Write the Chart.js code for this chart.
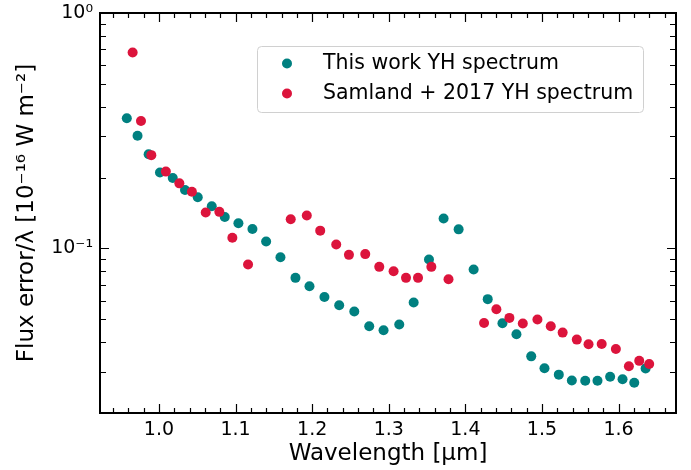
<!DOCTYPE html>
<html>
<head>
<meta charset="utf-8">
<script src="https://cdn.jsdelivr.net/npm/chart.js@4/dist/chart.umd.min.js"></script>
<style>
  html, body { margin: 0; padding: 0; background: #fff; }
  canvas { display: block; }
</style>
</head>
<body>
<canvas id="errChart" width="691" height="470"></canvas>
<script>
// ===== DATA =====
const thisWorkWave = [0.958, 0.972, 0.9865, 1.0013, 1.018, 1.034, 1.0506, 1.0689, 1.0859, 1.1037,
    1.122, 1.1399, 1.1586, 1.1782, 1.1965, 1.216, 1.2353, 1.255, 1.2745, 1.2932,
    1.3137, 1.3325, 1.3525, 1.3716, 1.3912, 1.4108, 1.4292, 1.4484, 1.4667, 1.486,
    1.5033, 1.522, 1.539, 1.5565, 1.5725, 1.589, 1.6052, 1.6205, 1.6353];
const thisWorkErr = [0.357, 0.301, 0.251, 0.210, 0.199, 0.177, 0.165, 0.151, 0.136, 0.128,
    0.121, 0.107, 0.0918, 0.075, 0.0691, 0.0622, 0.0574, 0.054, 0.0467, 0.0449,
    0.0475, 0.0589, 0.0898, 0.134, 0.1205, 0.0814, 0.0609, 0.0481, 0.0432, 0.0348,
    0.031, 0.0291, 0.0275, 0.0274, 0.0274, 0.0285, 0.0278, 0.0269, 0.0309];

const samlandWave = [0.9656, 0.9765, 0.990, 1.009, 1.0266, 1.043, 1.061, 1.0788, 1.0958, 1.1163,
    1.172, 1.193, 1.2105, 1.2314, 1.248, 1.2693, 1.2876, 1.3063, 1.3225, 1.3382,
    1.3556, 1.378, 1.4244, 1.4405, 1.4575, 1.475, 1.4941, 1.5115, 1.527, 1.5455,
    1.5608, 1.578, 1.5965, 1.6135, 1.627, 1.640];
const samlandErr = [0.679, 0.348, 0.249, 0.212, 0.189, 0.174, 0.142, 0.143, 0.111, 0.0855,
    0.133, 0.138, 0.119, 0.104, 0.0939, 0.0946, 0.0835, 0.080, 0.075, 0.075,
    0.0835, 0.074, 0.0482, 0.0552, 0.0507, 0.048, 0.0499, 0.0467, 0.0439, 0.041,
    0.0392, 0.0393, 0.0374, 0.0316, 0.0333, 0.0323];

const seriesLabels = ['This work YH spectrum', 'Samland + 2017 YH spectrum'];

const xMajorTicks = [1.0, 1.1, 1.2, 1.3, 1.4, 1.5, 1.6];
const xMinorTicks = [0.94, 0.96, 0.98, 1.02, 1.04, 1.06, 1.08, 1.12, 1.14, 1.16, 1.18,
    1.22, 1.24, 1.26, 1.28, 1.32, 1.34, 1.36, 1.38, 1.42, 1.44, 1.46, 1.48,
    1.52, 1.54, 1.56, 1.58, 1.62, 1.64, 1.66];
const yMajorTicks = [0.1, 1];
const yMajorLabels = ['10\u207B\u00B9', '10\u2070'];
const yMinorTicks = [0.02, 0.03, 0.04, 0.05, 0.06, 0.07, 0.08, 0.09,
    0.2, 0.3, 0.4, 0.5, 0.6, 0.7, 0.8, 0.9];

function toPoints(xs, ys) {
    return xs.map(function(x, i) { return { x: x, y: ys[i] }; });
}

const FONT = "'DejaVu Sans', sans-serif";

// frame, inward ticks and legend, drawn like matplotlib
const framePlugin = {
    id: 'frame',
    afterDraw: function(chart) {
        const c = chart.ctx;
        const a = chart.chartArea;
        const xs = chart.scales.x;
        const ys = chart.scales.y;
        c.save();
        c.strokeStyle = '#000';
        c.lineWidth = 1.2;
        function xTick(v, len) {
            const px = Math.round(xs.getPixelForValue(v)) + 0.5;
            c.beginPath();
            c.moveTo(px, a.bottom); c.lineTo(px, a.bottom - len);
            c.moveTo(px, a.top); c.lineTo(px, a.top + len);
            c.stroke();
        }
        function yTick(v, len) {
            const py = Math.round(ys.getPixelForValue(v)) + 0.5;
            c.beginPath();
            c.moveTo(a.left, py); c.lineTo(a.left + len, py);
            c.moveTo(a.right, py); c.lineTo(a.right - len, py);
            c.stroke();
        }
        xMajorTicks.forEach(function(v) { xTick(v, 9); });
        xMinorTicks.forEach(function(v) { xTick(v, 5); });
        yMajorTicks.forEach(function(v) { yTick(v, 9); });
        yMinorTicks.forEach(function(v) { yTick(v, 6); });

        c.lineWidth = 2;
        c.strokeRect(a.left, a.top, a.right - a.left, a.bottom - a.top);

        // legend
        const lx = 257, ly = 46, lw = 386, lh = 66;
        c.beginPath();
        c.roundRect(lx + 0.5, ly + 0.5, lw, lh, 4);
        c.fillStyle = 'rgba(255,255,255,0.8)';
        c.fill();
        c.strokeStyle = '#d0d0d0';
        c.lineWidth = 1;
        c.stroke();
        c.font = '20.5px ' + FONT;
        c.textBaseline = 'middle';
        c.textAlign = 'left';
        chart.data.datasets.forEach(function(ds, i) {
            const cy = 63.5 + i * 30;
            c.beginPath();
            c.arc(287, cy, 5, 0, Math.PI * 2);
            c.fillStyle = ds.backgroundColor;
            c.fill();
            c.fillStyle = '#000';
            c.fillText(ds.label, 323, cy);
        });
        c.restore();
    }
};

new Chart(document.getElementById('errChart'), {
    type: 'scatter',
    data: {
        datasets: [
            {
                label: seriesLabels[0],
                data: toPoints(thisWorkWave, thisWorkErr),
                backgroundColor: '#008080',
                borderWidth: 0,
                pointRadius: 5,
                order: 1
            },
            {
                label: seriesLabels[1],
                data: toPoints(samlandWave, samlandErr),
                backgroundColor: '#dc143c',
                borderWidth: 0,
                pointRadius: 5,
                order: 0
            }
        ]
    },
    options: {
        responsive: false,
        animation: false,
        layout: { padding: { left: 0, right: 15, top: 13, bottom: 0 } },
        plugins: {
            legend: { display: false },
            tooltip: { enabled: false }
        },
        scales: {
            x: {
                type: 'linear',
                min: 0.923,
                max: 1.675,
                grid: { display: false, drawTicks: false },
                border: { display: false },
                afterFit: function(scale) {
                    scale.height = 57;
                    scale.paddingLeft = 0;
                    scale.paddingRight = 0;
                },
                afterBuildTicks: function(scale) {
                    scale.ticks = xMajorTicks.map(function(v) { return { value: v }; });
                },
                ticks: {
                    padding: 6,
                    color: '#000',
                    font: { family: FONT, size: 19 },
                    callback: function(value) { return Number(value).toFixed(1); }
                },
                title: {
                    display: true,
                    text: 'Wavelength [\u03BCm]',
                    color: '#000',
                    font: { family: FONT, size: 23 },
                    padding: { top: 0, bottom: 2 }
                }
            },
            y: {
                type: 'logarithmic',
                min: 0.02,
                max: 1,
                grid: { display: false, drawTicks: false },
                border: { display: false },
                afterFit: function(scale) {
                    scale.width = 100;
                    scale.paddingTop = 0;
                    scale.paddingBottom = 0;
                },
                afterBuildTicks: function(scale) {
                    scale.ticks = yMajorTicks.map(function(v) { return { value: v }; });
                },
                ticks: {
                    padding: 7,
                    color: '#000',
                    font: { family: FONT, size: 19 },
                    callback: function(value) {
                        const i = yMajorTicks.indexOf(value);
                        return i >= 0 ? yMajorLabels[i] : '';
                    }
                },
                title: {
                    display: true,
                    text: 'Flux error/\u03BB [10\u207B\u00B9\u2076 W m\u207B\u00B2]',
                    color: '#000',
                    font: { family: FONT, size: 23 },
                    padding: { top: 13, bottom: 0 }
                }
            }
        }
    },
    plugins: [framePlugin]
});
</script>
</body>
</html>
